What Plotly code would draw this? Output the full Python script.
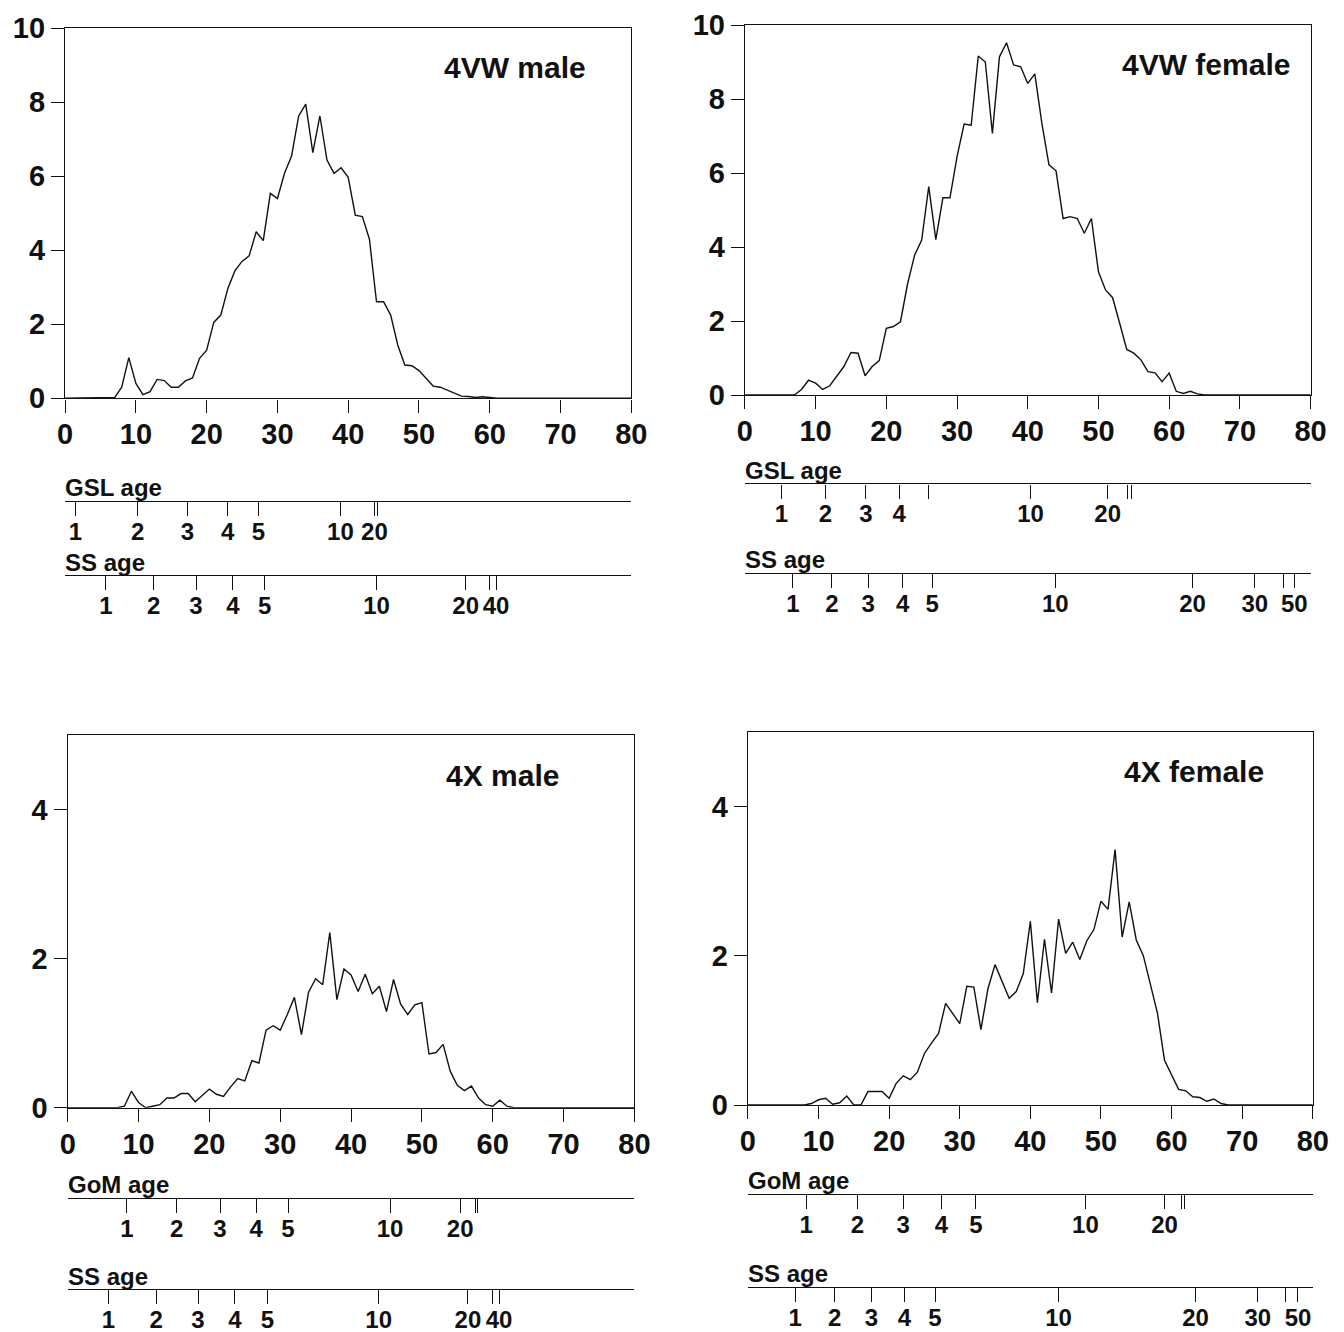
import plotly.graph_objects as go

W, H = 1344, 1332

# ---- data -------------------------------------------------------------
length_cm = list(range(0, 81))

freq_4vw_male = [
    0, 0, 0, 0, 0, 0, 0, 0.02, 0.3, 1.1,
    0.4, 0.1, 0.18, 0.51, 0.48, 0.3, 0.3, 0.47, 0.55, 1.08,
    1.3, 2.05, 2.25, 2.97, 3.45, 3.7, 3.85, 4.5, 4.26, 5.54,
    5.4, 6.08, 6.55, 7.63, 7.95, 6.64, 7.63, 6.44, 6.08, 6.23,
    5.97, 4.95, 4.91, 4.3, 2.61, 2.61, 2.25, 1.44, 0.9, 0.88,
    0.75, 0.54, 0.33, 0.3, 0.22, 0.15, 0.06, 0.05, 0.02, 0.04,
    0.01, 0, 0, 0, 0, 0, 0, 0, 0, 0,
    0, 0, 0, 0, 0, 0, 0, 0, 0, 0, 0,
]

freq_4vw_female = [
    0, 0, 0, 0, 0, 0, 0, 0, 0.15, 0.4,
    0.32, 0.15, 0.25, 0.5, 0.77, 1.15, 1.13, 0.52, 0.77, 0.93,
    1.8, 1.85, 1.98, 3.0, 3.78, 4.19, 5.63, 4.2, 5.33, 5.33,
    6.44, 7.32, 7.29, 9.16, 9.0, 7.07, 9.14, 9.52, 8.92, 8.87,
    8.42, 8.68, 7.34, 6.22, 6.06, 4.77, 4.82, 4.77, 4.37, 4.77,
    3.33, 2.84, 2.63, 1.94, 1.23, 1.13, 0.95, 0.63, 0.6, 0.36,
    0.59, 0.1, 0.04, 0.1, 0.03, 0, 0, 0, 0, 0,
    0, 0, 0, 0, 0, 0, 0, 0, 0, 0, 0,
]

freq_4x_male = [
    0, 0, 0, 0, 0, 0, 0, 0, 0.02, 0.22,
    0.07, 0, 0.02, 0.04, 0.13, 0.13, 0.19, 0.19, 0.08, 0.16,
    0.25, 0.18, 0.15, 0.28, 0.39, 0.36, 0.63, 0.6, 1.04, 1.1,
    1.04, 1.25, 1.48, 0.98, 1.55, 1.73, 1.65, 2.35, 1.45, 1.86,
    1.78, 1.56, 1.79, 1.53, 1.63, 1.29, 1.72, 1.39, 1.25, 1.38,
    1.41, 0.72, 0.74, 0.85, 0.49, 0.3, 0.23, 0.29, 0.13, 0.04,
    0.02, 0.1, 0.02, 0, 0, 0, 0, 0, 0, 0,
    0, 0, 0, 0, 0, 0, 0, 0, 0, 0, 0,
]

freq_4x_female = [
    0, 0, 0, 0, 0, 0, 0, 0, 0, 0.02,
    0.07, 0.09, 0.01, 0.03, 0.12, 0, 0, 0.18, 0.18, 0.18,
    0.09, 0.29, 0.39, 0.34, 0.44, 0.69, 0.83, 0.96, 1.36, 1.23,
    1.09, 1.59, 1.58, 1.01, 1.56, 1.88, 1.65, 1.43, 1.52, 1.76,
    2.46, 1.37, 2.22, 1.5, 2.49, 2.03, 2.18, 1.95, 2.2, 2.35,
    2.73, 2.62, 3.42, 2.25, 2.72, 2.21, 2.0, 1.63, 1.23, 0.6,
    0.4, 0.21, 0.19, 0.11, 0.1, 0.05, 0.08, 0.02, 0, 0,
    0, 0, 0, 0, 0, 0, 0, 0, 0, 0, 0,
]

panel_names = ["4VW male", "4VW female", "4X male", "4X female"]

# age-at-length scales: lengths (cm) where each age is reached, and labels
gsl_len_4vw_male = [1.46, 10.25, 17.3, 22.96, 27.3, 38.9, 43.7, 44.1]
gsl_lab_4vw_male = ["1", "2", "3", "4", "5", "10", "20", ""]
ss_len_4vw_male = [5.76, 12.5, 18.5, 23.7, 28.2, 44.0, 56.6, 59.9, 60.9]
ss_lab_4vw_male = ["1", "2", "3", "4", "5", "10", "20", "", "40"]

gsl_len_4vw_female = [5.15, 11.4, 17.1, 21.8, 25.9, 40.4, 51.3, 54.1, 54.7]
gsl_lab_4vw_female = ["1", "2", "3", "4", "", "10", "20", "", ""]
ss_len_4vw_female = [6.8, 12.3, 17.45, 22.3, 26.5, 43.9, 63.3, 72.1, 76.1, 77.7]
ss_lab_4vw_female = ["1", "2", "3", "4", "5", "10", "20", "30", "", "50"]

gom_len_4x_male = [8.35, 15.4, 21.5, 26.6, 31.1, 45.5, 55.4, 57.5, 57.9]
gom_lab_4x_male = ["1", "2", "3", "4", "5", "10", "20", "", ""]
ss_len_4x_male = [5.75, 12.5, 18.4, 23.6, 28.2, 43.9, 56.5, 59.9, 60.9]
ss_lab_4x_male = ["1", "2", "3", "4", "5", "10", "20", "", "40"]

gom_len_4x_female = [8.26, 15.5, 22.0, 27.4, 32.3, 47.8, 59.0, 61.4, 61.9]
gom_lab_4x_female = ["1", "2", "3", "4", "5", "10", "20", "", ""]
ss_len_4x_female = [6.7, 12.3, 17.5, 22.15, 26.5, 44.0, 63.4, 72.2, 76.1, 77.9]
ss_lab_4x_female = ["1", "2", "3", "4", "5", "10", "20", "30", "", "50"]

# ---- layout helpers ---------------------------------------------------
FONT = "Liberation Sans, Arial, Helvetica, sans-serif"
INK = "#111111"


def fx(px):
    return px / W


def fy(py):
    return 1 - py / H


# panel boxes in pixels: left, right, top, bottom, y max
panel_box = [
    (65.1, 631.3, 28.3, 398.3, 10),
    (744.9, 1310.6, 25.0, 395.0, 10),
    (67.7, 634.4, 735.0, 1107.7, 5),
    (747.9, 1312.8, 731.7, 1105.0, 5),
]
label_pos = [(63.6, 8.93), (65.2, 8.94), (61.4, 4.46), (63.2, 4.47)]
series = [freq_4vw_male, freq_4vw_female, freq_4x_male, freq_4x_female]

# age scales: panel, axis line (px), title, title centre (px), lengths, labels
age_scales = [
    (0, 501.0, "GSL age", 488.0, gsl_len_4vw_male, gsl_lab_4vw_male),
    (0, 575.0, "SS age", 562.5, ss_len_4vw_male, ss_lab_4vw_male),
    (1, 483.3, "GSL age", 470.5, gsl_len_4vw_female, gsl_lab_4vw_female),
    (1, 573.0, "SS age", 559.5, ss_len_4vw_female, ss_lab_4vw_female),
    (2, 1198.0, "GoM age", 1184.0, gom_len_4x_male, gom_lab_4x_male),
    (2, 1289.0, "SS age", 1276.0, ss_len_4x_male, ss_lab_4x_male),
    (3, 1194.0, "GoM age", 1180.5, gom_len_4x_female, gom_lab_4x_female),
    (3, 1286.7, "SS age", 1273.5, ss_len_4x_female, ss_lab_4x_female),
]

fig = go.Figure()
layout = {}
annotations = []

for i, (left, right, top, bottom, ymax) in enumerate(panel_box):
    n = i + 1
    xa, ya = f"xaxis{n}", f"yaxis{n}"
    fig.add_trace(go.Scatter(
        x=length_cm, y=series[i], mode="lines",
        line=dict(color=INK, width=1.4),
        xaxis=f"x{n}", yaxis=f"y{n}", showlegend=False, hoverinfo="x+y",
    ))
    layout[xa] = dict(
        domain=[fx(left), fx(right)], anchor=f"y{n}", range=[0, 80],
        tickvals=list(range(0, 81, 10)), ticks="outside", ticklen=13,
        tickwidth=1.4, tickcolor=INK, showline=True, mirror=True,
        linecolor=INK, linewidth=1.4, showgrid=False, zeroline=False,
        automargin=False, ticklabelstandoff=-3,
        tickfont=dict(family=FONT, size=29, color=INK, weight="bold"),
    )
    layout[ya] = dict(
        domain=[fy(bottom), fy(top)], anchor=f"x{n}", range=[0, ymax],
        tickvals=list(range(0, ymax + 1, 2)), ticks="outside", ticklen=13,
        tickwidth=1.4, tickcolor=INK, showline=True, mirror=True,
        linecolor=INK, linewidth=1.4, showgrid=False, zeroline=False,
        automargin=False,
        tickfont=dict(family=FONT, size=29, color=INK, weight="bold"),
    )
    lx, ly = label_pos[i]
    annotations.append(dict(
        x=lx, y=ly, xref=f"x{n}", yref=f"y{n}", text=panel_names[i],
        showarrow=False, xanchor="center", yanchor="middle",
        font=dict(family=FONT, size=30, color=INK, weight="bold"),
    ))

for j, (p, line_py, title, title_py, lens, labs) in enumerate(age_scales):
    n = 5 + j
    left, right = panel_box[p][0], panel_box[p][1]
    fig.add_trace(go.Scatter(
        x=[], y=[], mode="lines", xaxis=f"x{n}", yaxis=f"y{n}",
        showlegend=False, hoverinfo="skip",
    ))
    layout[f"xaxis{n}"] = dict(
        domain=[fx(left), fx(right)], anchor=f"y{n}", range=[0, 80],
        tickvals=lens, ticktext=labs, ticks="outside", ticklen=14,
        tickwidth=1.4, tickcolor=INK, showline=True, linecolor=INK,
        linewidth=1.4, showgrid=False, zeroline=False,
        automargin=False, ticklabelstandoff=-5,
        tickfont=dict(family=FONT, size=24, color=INK, weight="bold"),
    )
    layout[f"yaxis{n}"] = dict(
        domain=[fy(line_py), fy(line_py) + 0.004], anchor=f"x{n}",
        range=[0, 1], visible=False, automargin=False,
    )
    annotations.append(dict(
        x=fx(left), y=fy(title_py), xref="paper", yref="paper", text=title,
        showarrow=False, xanchor="left", yanchor="middle", xshift=-2,
        font=dict(family=FONT, size=24, color=INK, weight="bold"),
    ))

fig.update_layout(
    width=W, height=H, margin=dict(l=0, r=0, t=0, b=0),
    paper_bgcolor="white", plot_bgcolor="white",
    showlegend=False, annotations=annotations, **layout,
)

fig.write_html("out.html")
